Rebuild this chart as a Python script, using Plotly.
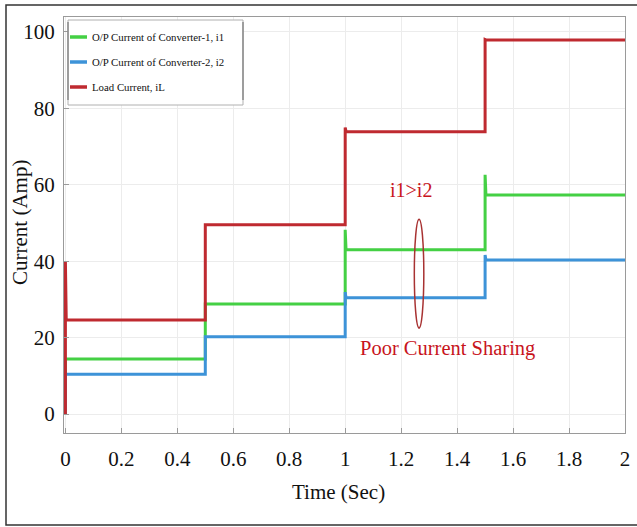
import plotly.graph_objects as go

# ---- data ----
t_steps = [0.0, 0.5, 1.0, 1.5, 2.0]
i1_levels = [14.4, 28.8, 43.0, 57.3]
i2_levels = [10.4, 20.2, 30.4, 40.3]
iL_levels = [24.6, 49.5, 73.9, 97.9]
# transient peak reached right at each step
i1_peaks = [14.4, 28.8, 48.2, 62.6]
i2_peaks = [10.4, 20.2, 31.9, 41.6]
iL_peaks = [40.0, 49.5, 75.0, 98.0]
start_value = 0.0
settle = 0.003

x_ticks = [0, 0.2, 0.4, 0.6, 0.8, 1, 1.2, 1.4, 1.6, 1.8, 2]
y_ticks = [0, 20, 40, 60, 80, 100]

names = ["O/P Current of Converter-1, i1", "O/P Current of Converter-2, i2", "Load Current, iL"]
colors = ["#44d044", "#3d93d8", "#bf2a30"]

# plot-area geometry in pixels (for paper-coordinate decorations)
L, R, T, B = 64, 625, 17, 433
W, H = R - L, B - T


def px(x):
    return (x - L) / W


def py(y):
    return (B - y) / H


def step_trace(levels, peaks):
    xs, ys = [], []
    prev = start_value
    for k, lvl in enumerate(levels):
        t0, t1 = t_steps[k], t_steps[k + 1]
        xs += [t0, t0, t0 + settle, t1]
        ys += [prev, peaks[k], lvl, lvl]
        prev = lvl
    return xs, ys


serif = "Liberation Serif, Times New Roman, serif"
fig = go.Figure()
for lv, pk, nm, col in zip([i1_levels, i2_levels, iL_levels],
                           [i1_peaks, i2_peaks, iL_peaks], names, colors):
    xs, ys = step_trace(lv, pk)
    fig.add_trace(go.Scatter(x=xs, y=ys, mode="lines", name=nm,
                             line=dict(color=col, width=3), showlegend=False))

fig.add_shape(type="circle", xref="x", yref="y", x0=1.247, x1=1.281, y0=22.5, y1=51,
              line=dict(color="#a83232", width=1.5))
fig.add_annotation(x=1.236, y=58.6, text="i1>i2", showarrow=False,
                   font=dict(family=serif, size=20, color="#c8141c"))
fig.add_annotation(x=1.364, y=17.2, text="Poor Current Sharing", showarrow=False,
                   font=dict(family=serif, size=20.5, color="#c8141c"))

# legend box (hand-drawn to match the reference's short line samples)
fig.add_shape(type="rect", xref="paper", yref="paper",
              x0=px(68), x1=px(243), y0=py(105), y1=py(20),
              line=dict(color="#b0b0b0", width=1), fillcolor="white")
fig.add_shape(type="line", xref="paper", yref="paper",
              x0=px(68), x1=px(68), y0=py(100), y1=py(22),
              line=dict(color="#8a8a8a", width=1.5))
fig.add_shape(type="line", xref="paper", yref="paper",
              x0=px(243), x1=px(243), y0=py(100), y1=py(22),
              line=dict(color="#8a8a8a", width=1.5))
for nm, col, ypix in zip(names, colors, [37, 62, 87]):
    fig.add_shape(type="line", xref="paper", yref="paper",
                  x0=px(70), x1=px(87), y0=py(ypix), y1=py(ypix),
                  line=dict(color=col, width=3.5))
    fig.add_annotation(xref="paper", yref="paper", x=px(90), y=py(ypix),
                       xanchor="left", yanchor="middle", text=nm, showarrow=False,
                       font=dict(family=serif, size=10.8, color="#111111"))

# axis titles
fig.add_annotation(xref="paper", yref="paper", x=px(338), y=py(492), text="Time (Sec)",
                   showarrow=False, xanchor="center", yanchor="middle",
                   font=dict(family=serif, size=21, color="#111111"))
fig.add_annotation(xref="paper", yref="paper", x=px(20), y=py(223), text="Current (Amp)",
                   showarrow=False, textangle=-90, xanchor="center", yanchor="middle",
                   font=dict(family=serif, size=21, color="#111111"))

# outer frame around the whole picture
fig.add_shape(type="rect", xref="paper", yref="paper",
              x0=px(6), x1=px(645), y0=py(525), y1=py(5),
              line=dict(color="#333333", width=1.5), layer="below")

axis_common = dict(showline=True, linecolor="#9a9a9a", linewidth=1, mirror=True,
                   showgrid=True, gridcolor="#ececec", gridwidth=1,
                   ticks="inside", ticklen=5, tickcolor="#9a9a9a", zeroline=False,
                   automargin=False,
                   tickfont=dict(family=serif, size=21, color="#111111"))

fig.update_layout(
    width=637, height=527,
    margin=dict(l=L, r=637 - R, t=T, b=527 - B),
    paper_bgcolor="white", plot_bgcolor="white",
    xaxis=dict(range=[-0.005, 2.0], tickvals=x_ticks,
               ticktext=[f"{v:g}" for v in x_ticks], ticklabelstandoff=7,
               **axis_common),
    yaxis=dict(range=[-4.97, 103.9], tickvals=y_ticks, ticklabelstandoff=4,
               **axis_common),
    showlegend=False,
)

fig.write_html("out.html")
